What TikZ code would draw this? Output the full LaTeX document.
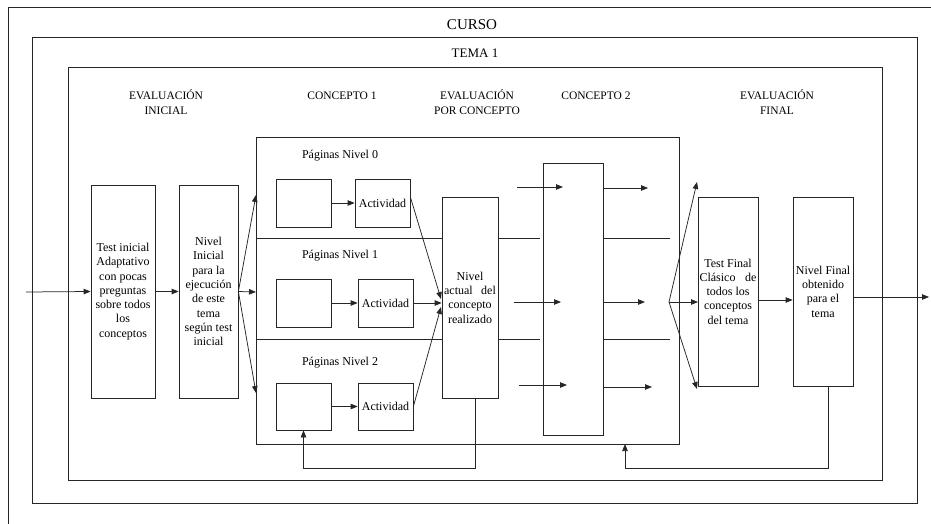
\documentclass[tikz,border=0pt]{standalone}
\usepackage{fontspec}
\setmainfont{Liberation Serif}
\usetikzlibrary{arrows.meta}
\begin{document}
\begin{tikzpicture}[x=1pt,y=-1pt,
  ln/.style={line width=0.75pt, draw=black!85},
  bx/.style={draw=black!85, line width=0.75pt, inner sep=1pt, rectangle, align=center,
             font=\fontsize{12}{14.3}\selectfont},
  hd/.style={font=\fontsize{11.5}{14.5}\selectfont, align=center, inner sep=0pt},
  lbl/.style={font=\fontsize{12}{14.3}\selectfont, inner sep=0pt},
  arr/.style={ln, -{Triangle[length=7pt,width=5.5pt]}},
]
\useasboundingbox (0,0) rectangle (931,524);

% outer frames
\draw[ln] (8,524) -- (8,7) -- (931,7);
\node[bx, minimum width=885pt, minimum height=466pt] (curso) at (474.5,270) {};
\node[bx, minimum width=814pt, minimum height=413pt] (tema) at (475,273.5) {};
\node[font=\fontsize{15}{18}\selectfont, inner sep=0pt] (cursot) at (472,25) {CURSO};
\node[font=\fontsize{13}{16}\selectfont, inner sep=0pt] (temat) at (475,53) {TEMA 1};

% headers
\node[hd] (h1) at (166,102) {EVALUACIÓN\\INICIAL};
\node[hd] (h2) at (342,96) {CONCEPTO 1};
\node[hd] (h3) at (477,102) {EVALUACIÓN\\POR CONCEPTO};
\node[hd] (h4) at (596,96) {CONCEPTO 2};
\node[hd] (h5) at (777,102) {EVALUACIÓN\\FINAL};

% left boxes
\node[bx, minimum width=64pt, minimum height=213pt] (ti) at (123,291.5)
  {Test inicial\\Adaptativo\\con pocas\\preguntas\\sobre todos\\los\\conceptos};
\node[bx, minimum width=59pt, minimum height=213pt] (ni) at (208.5,291.5)
  {Nivel\\Inicial\\para la\\ejecución\\de este\\tema\\según test\\inicial};

% concept 1 frame
\node[bx, minimum width=423pt, minimum height=307pt] (sub) at (467.5,290.5) {};
\draw[ln] (256,238) -- (442,238);
\draw[ln] (256,339) -- (442,339);
\draw[ln] (498,238) -- (540,238);
\draw[ln] (498,339) -- (540,339);
\draw[ln] (603,238) -- (670,238);
\draw[ln] (603,339) -- (670,339);

\node[lbl] (p0) at (340,156) {Páginas Nivel 0};
\node[lbl] (p1) at (340,256) {Páginas Nivel 1};
\node[lbl] (p2) at (340,363) {Páginas Nivel 2};

\node[bx, minimum width=55pt, minimum height=48pt] (b0) at (303.5,203) {};
\node[bx, minimum width=55pt, minimum height=48pt] (a0) at (382.5,203) {Actividad};
\node[bx, minimum width=55pt, minimum height=48pt] (b1) at (303.5,303) {};
\node[bx, minimum width=55pt, minimum height=48pt] (a1) at (385.5,303) {Actividad};
\node[bx, minimum width=55pt, minimum height=47pt] (b2) at (303.5,406.5) {};
\node[bx, minimum width=55pt, minimum height=47pt] (a2) at (385.5,406.5) {Actividad};

% evaluation per concept
\node[bx, minimum width=56pt, minimum height=201pt] (na) at (470,297.5)
  {Nivel\\actual\hspace{0.7em}del\\concepto\\realizado};

% concept 2
\node[bx, minimum width=60pt, minimum height=272pt] (c2) at (573,299) {};

% final boxes
\node[bx, minimum width=60pt, minimum height=189pt] (tf) at (728,291.5)
  {Test Final\\Clásico\hspace{0.8em}de\\todos los\\conceptos\\del tema};
\node[bx, minimum width=60pt, minimum height=189pt] (nf) at (823,291.5)
  {Nivel Final\\obtenido\\para el\\tema};

% coordinates
\coordinate (in) at (26,292);
\coordinate (f0) at (256,195);
\coordinate (f1) at (256,292);
\coordinate (f2) at (256,393);
\coordinate (n0) at (441,299);
\coordinate (n2) at (441,307);
\coordinate (l0s) at (517,187);  \coordinate (l0e) at (563,187);
\coordinate (l1s) at (514,302);  \coordinate (l1e) at (561,302);
\coordinate (l2s) at (519,385);  \coordinate (l2e) at (567,385);
\coordinate (r0s) at (603,188);  \coordinate (r0e) at (648,188);
\coordinate (r1s) at (603,302);  \coordinate (r1e) at (645,302);
\coordinate (r2s) at (603,387);  \coordinate (r2e) at (652,387);
\coordinate (g) at (669,302);
\coordinate (g0) at (697,182);
\coordinate (g1) at (698,302);
\coordinate (g2) at (697,389);
\coordinate (out) at (929,297);
\coordinate (fb2) at (625,444);

% connectors
\draw[arr] (in) -- (ti.west);
\draw[arr] (ti.east) -- (ni.west);
\draw[arr] (ni.east) -- (f0);
\draw[arr] (ni.east) -- (f1);
\draw[arr] (ni.east) -- (f2);
\draw[arr] (b0.east) -- (a0.west);
\draw[arr] (b1.east) -- (a1.west);
\draw[arr] (b2.east) -- (a2.west);
\draw[arr] ([yshift=6pt]a0.east) -- (n0);
\draw[arr] (a1.east) -- (a1.east -| na.west);
\draw[arr] (a2.east) -- (n2);
\draw[arr] (l0s) -- (l0e);
\draw[arr] (l1s) -- (l1e);
\draw[arr] (l2s) -- (l2e);
\draw[arr] (r0s) -- (r0e);
\draw[arr] (r1s) -- (r1e);
\draw[arr] (r2s) -- (r2e);
\draw[arr] (g) -- (g0);
\draw[arr] (g) -- (g1);
\draw[arr] (g) -- (g2);
\draw[arr] ([yshift=-8.5pt]tf.east) -- ([yshift=-8.5pt]nf.west);
\draw[arr] ([yshift=-5.5pt]nf.east) -- (out);
\draw[arr] ([xshift=5pt]na.south) -- ++(0,70) -| (b2.south);
\draw[arr] ([xshift=5pt]nf.south) -- ++(0,82) -| (fb2);
\end{tikzpicture}
\end{document}
